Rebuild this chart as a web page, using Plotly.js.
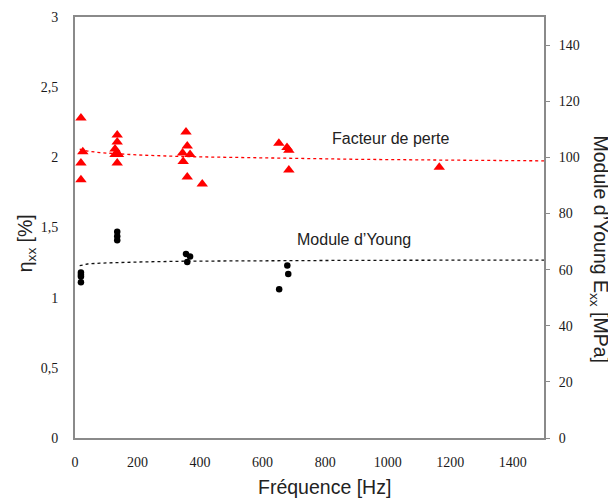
<!DOCTYPE html>
<html>
<head>
<meta charset="utf-8">
<script src="https://cdn.plot.ly/plotly-3.0.1.min.js"></script>
<style>html,body{margin:0;padding:0;background:#fff;}#chart{width:608px;height:499px;}</style>
</head>
<body>
<div id="chart"></div>
<script>
// Loss factor (left axis, %)
const freqLoss = [19, 25, 19, 19, 135, 135, 128, 135, 128, 139, 135, 355, 359, 344, 368, 346, 359, 407, 652, 678, 684, 684, 1165];
const etaLoss = [2.28, 2.04, 1.96, 1.84, 2.16, 2.11, 2.06, 2.03, 2.02, 2.02, 1.96, 2.18, 2.08, 2.03, 2.02, 1.97, 1.86, 1.81, 2.10, 2.07, 2.05, 1.91, 1.93];
// Young's modulus (right axis, MPa)
const freqYoung = [19, 19, 19, 19, 135, 135, 135, 355, 368, 359, 679, 682, 653];
const eYoung = [59.0, 58.2, 57.5, 55.5, 73.5, 71.9, 70.5, 65.6, 64.7, 62.7, 61.5, 58.4, 53.0];
// Trend lines
const trendFreq = [15, 40, 80, 135, 200, 350, 600, 900, 1200, 1500];
const trendLoss = [2.058, 2.045, 2.033, 2.026, 2.017, 2.005, 1.995, 1.986, 1.980, 1.975];
const trendYoung = [61.4, 62.0, 62.3, 62.5, 62.7, 63.0, 63.2, 63.3, 63.35, 63.4];

const txtFont = {family: 'Liberation Sans', size: 16, color: '#222'};
const titleFont = {family: 'Liberation Sans', size: 19.5, color: '#222'};
const tickFont = {family: 'Liberation Serif, Times New Roman, serif', size: 14, color: '#1a1a1a'};

const traces = [
  {x: trendFreq, y: trendLoss, mode: 'lines', line: {color: '#ff0000', width: 1.3, dash: 'dot'}, yaxis: 'y', hoverinfo: 'skip'},
  {x: trendFreq, y: trendYoung, mode: 'lines', line: {color: '#111', width: 1.3, dash: 'dot'}, yaxis: 'y2', hoverinfo: 'skip'},
  {x: freqLoss, y: etaLoss, mode: 'markers', marker: {symbol: 'triangle-up', size: 10, color: '#ff0000'}, yaxis: 'y'},
  {x: freqYoung, y: eYoung, mode: 'markers', marker: {symbol: 'circle', size: 6.5, color: '#000'}, yaxis: 'y2'}
];

const layout = {
  width: 608, height: 499,
  margin: {l: 75, r: 64, t: 17, b: 61},
  paper_bgcolor: '#fff', plot_bgcolor: '#fff',
  showlegend: false,
  separators: ', ',
  xaxis: {
    range: [0, 1500], dtick: 200, tick0: 0,
    showgrid: false, zeroline: false,
    showline: true, mirror: true, linecolor: '#8a8a8a', linewidth: 2,
    ticks: '', tickfont: tickFont, ticklabelstandoff: 10
  },
  yaxis: {
    range: [0, 3], dtick: 0.5, tick0: 0,
    showgrid: false, zeroline: false,
    showline: true, mirror: true, linecolor: '#8a8a8a', linewidth: 2,
    ticks: '', tickfont: tickFont, ticklabelstandoff: 12
  },
  yaxis2: {
    range: [0, 150], dtick: 20, tick0: 0,
    overlaying: 'y', side: 'right',
    showgrid: false, zeroline: false, showline: false,
    ticks: 'outside', ticklen: 5, tickcolor: '#8a8a8a', tickwidth: 1,
    tickfont: tickFont, ticklabelstandoff: 6
  },
  annotations: [
    {text: 'Facteur de perte', x: 1010, y: 2.136, xref: 'x', yref: 'y', showarrow: false, font: txtFont},
    {text: 'Module d\u2019Young', x: 892, y: 1.414, xref: 'x', yref: 'y', showarrow: false, font: txtFont},
    {text: 'Fréquence [Hz]', x: 0.533, y: -0.116, xref: 'paper', yref: 'paper', xanchor: 'center', yanchor: 'middle', showarrow: false, font: titleFont},
    {text: '\u03b7<sub>xx</sub> [%]', x: -0.104, y: 0.463, xref: 'paper', yref: 'paper', xanchor: 'center', yanchor: 'middle', textangle: -90, showarrow: false, font: titleFont},
    {text: 'Module d\u2019Young E<sub>xx</sub> [MPa]', x: 1.118, y: 0.447, xref: 'paper', yref: 'paper', xanchor: 'center', yanchor: 'middle', textangle: 90, showarrow: false, font: titleFont}
  ]
};

Plotly.newPlot('chart', traces, layout, {displayModeBar: false, staticPlot: true});
</script>
</body>
</html>
